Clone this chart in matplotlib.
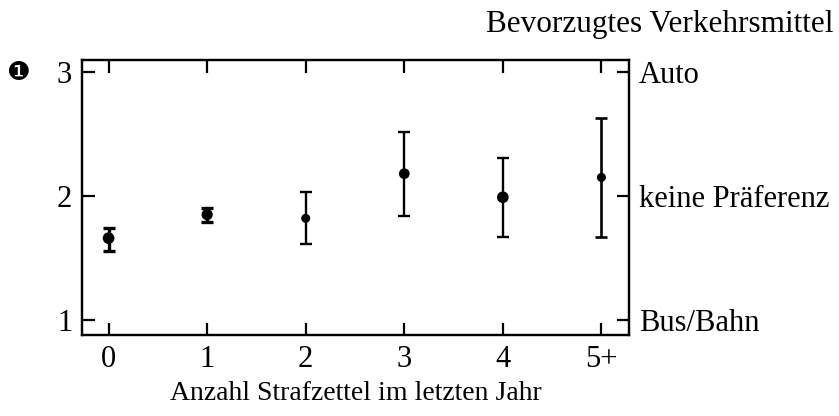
import matplotlib
matplotlib.use("Agg")
import matplotlib.pyplot as plt
import numpy as np

# values
categories = ["0", "1", "2", "3", "4", "5+"]
means = [1.66, 1.85, 1.82, 2.18, 1.99, 2.15]
lower = [1.56, 1.79, 1.61, 1.84, 1.67, 1.67]
upper = [1.745, 1.90, 2.03, 2.52, 2.31, 2.63]
marker_sizes = [55, 50, 30, 45, 55, 30]
bar_widths = [2.4, 2.4, 1.7, 1.7, 1.7, 1.9]
right_labels = ["Bus/Bahn", "keine Präferenz", "Auto"]

plt.rcParams["font.family"] = ["Liberation Serif", "DejaVu Sans"]
plt.rcParams["font.size"] = 22

fig = plt.figure(figsize=(8.39, 4.16), dpi=100)
ax = fig.add_axes([0.0977, 0.1947, 0.652, 0.6611])

x = np.arange(len(categories))
m = np.array(means)
yerr = np.array([m - np.array(lower), np.array(upper) - m])

for i in range(len(x)):
    ax.errorbar(x[i], means[i], yerr=yerr[:, i:i + 1], fmt="none", ecolor="black",
                elinewidth=bar_widths[i], capsize=4.5, capthick=bar_widths[i])
ax.scatter(x, means, s=marker_sizes, color="black", zorder=3)

ax.set_xlim(-0.27, 5.28)
ax.set_ylim(0.879, 3.097)
ax.set_xticks(x)
ax.set_xticklabels(categories)
ax.set_yticks([1, 2, 3])
ax.set_yticklabels(["1", "2", "3"])
ax.tick_params(axis="both", direction="in", length=9, width=1.6, pad=7,
               top=True, right=True, labelsize=22)
for sp in ax.spines.values():
    sp.set_linewidth(1.6)

ax2 = ax.twinx()
ax2.set_ylim(ax.get_ylim())
ax2.set_yticks([1, 2, 3])
ax2.set_yticklabels(right_labels)
ax2.tick_params(axis="y", direction="in", length=9, width=1.6, pad=7, labelsize=22)
for sp in ax2.spines.values():
    sp.set_linewidth(1.6)

ax.set_xlabel("Anzahl Strafzettel im letzten Jahr", fontsize=20, labelpad=5)
fig.text(0.993, 0.94, "Bevorzugtes Verkehrsmittel", ha="right", va="center", fontsize=22.5)
fig.text(0.022, 0.825, "\u2776", ha="center", va="center", fontsize=19,
         family=["DejaVu Sans"])

fig.savefig("out.png", dpi=100)
